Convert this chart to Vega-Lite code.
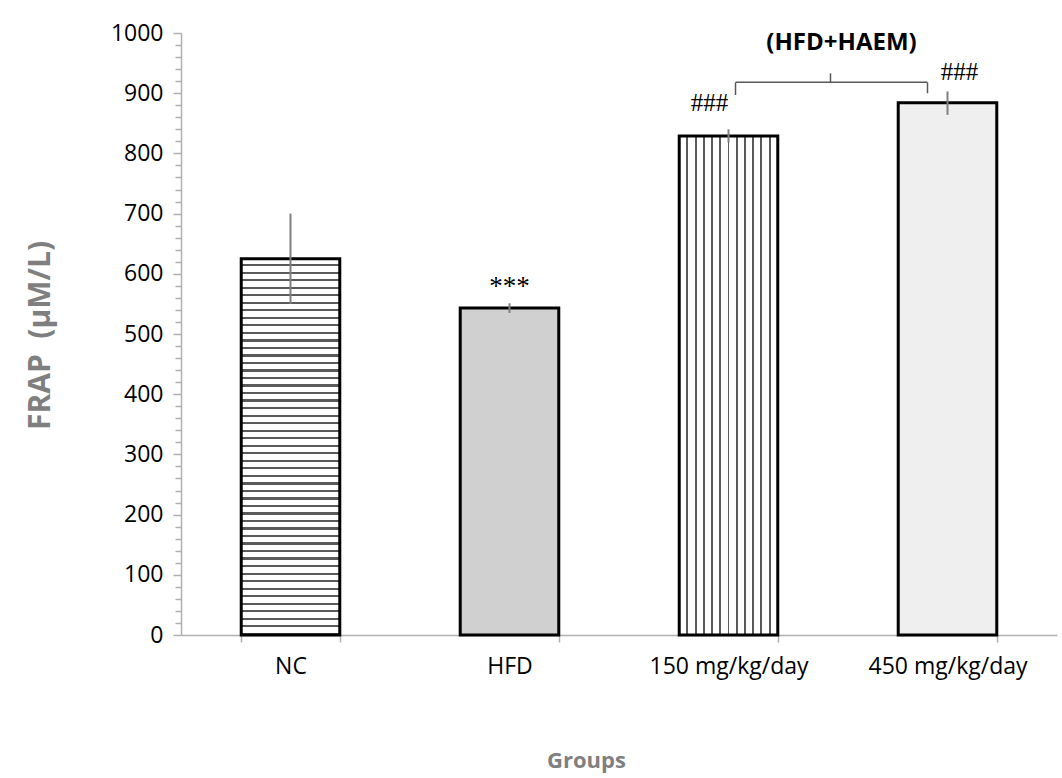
{
"$schema":"https://vega.github.io/schema/vega-lite/v6.json",
"width":876,"height":602,
"autosize":"none",
"padding":{"left":181,"top":33,"right":5,"bottom":143},
"background":"white",
"config":{"view":{"stroke":null},"font":"Open Sans"},
"data":{"values":[
{"group":"NC","mean":625,"lo":550,"hi":700,"sig":""},
{"group":"HFD","mean":543,"lo":535,"hi":551,"sig":"***"},
{"group":"150 mg/kg/day","mean":829,"lo":818,"hi":840,"sig":"###"},
{"group":"450 mg/kg/day","mean":884,"lo":864,"hi":903,"sig":"###"}
]},
"layer":[
{"transform":[{"filter":"datum.group === 'NC'"}],
"mark":{"type":"bar","stroke":"#000","strokeWidth":3,"fill":{"gradient":"linear","x1":0,"y1":0,"x2":0,"y2":1,"stops":[
{"offset":0,"color":"#fff"},{"offset":0.014,"color":"#fff"},{"offset":0.014,"color":"#5a5a5a"},{"offset":0.02,"color":"#5a5a5a"},
{"offset":0.02,"color":"#fff"},{"offset":0.034,"color":"#fff"},{"offset":0.034,"color":"#5a5a5a"},{"offset":0.04,"color":"#5a5a5a"},
{"offset":0.04,"color":"#fff"},{"offset":0.054,"color":"#fff"},{"offset":0.054,"color":"#5a5a5a"},{"offset":0.06,"color":"#5a5a5a"},
{"offset":0.06,"color":"#fff"},{"offset":0.074,"color":"#fff"},{"offset":0.074,"color":"#5a5a5a"},{"offset":0.08,"color":"#5a5a5a"},
{"offset":0.08,"color":"#fff"},{"offset":0.094,"color":"#fff"},{"offset":0.094,"color":"#5a5a5a"},{"offset":0.1,"color":"#5a5a5a"},
{"offset":0.1,"color":"#fff"},{"offset":0.114,"color":"#fff"},{"offset":0.114,"color":"#5a5a5a"},{"offset":0.12,"color":"#5a5a5a"},
{"offset":0.12,"color":"#fff"},{"offset":0.134,"color":"#fff"},{"offset":0.134,"color":"#5a5a5a"},{"offset":0.14,"color":"#5a5a5a"},
{"offset":0.14,"color":"#fff"},{"offset":0.154,"color":"#fff"},{"offset":0.154,"color":"#5a5a5a"},{"offset":0.16,"color":"#5a5a5a"},
{"offset":0.16,"color":"#fff"},{"offset":0.174,"color":"#fff"},{"offset":0.174,"color":"#5a5a5a"},{"offset":0.18,"color":"#5a5a5a"},
{"offset":0.18,"color":"#fff"},{"offset":0.194,"color":"#fff"},{"offset":0.194,"color":"#5a5a5a"},{"offset":0.2,"color":"#5a5a5a"},
{"offset":0.2,"color":"#fff"},{"offset":0.214,"color":"#fff"},{"offset":0.214,"color":"#5a5a5a"},{"offset":0.22,"color":"#5a5a5a"},
{"offset":0.22,"color":"#fff"},{"offset":0.234,"color":"#fff"},{"offset":0.234,"color":"#5a5a5a"},{"offset":0.24,"color":"#5a5a5a"},
{"offset":0.24,"color":"#fff"},{"offset":0.254,"color":"#fff"},{"offset":0.254,"color":"#5a5a5a"},{"offset":0.26,"color":"#5a5a5a"},
{"offset":0.26,"color":"#fff"},{"offset":0.274,"color":"#fff"},{"offset":0.274,"color":"#5a5a5a"},{"offset":0.28,"color":"#5a5a5a"},
{"offset":0.28,"color":"#fff"},{"offset":0.294,"color":"#fff"},{"offset":0.294,"color":"#5a5a5a"},{"offset":0.3,"color":"#5a5a5a"},
{"offset":0.3,"color":"#fff"},{"offset":0.314,"color":"#fff"},{"offset":0.314,"color":"#5a5a5a"},{"offset":0.32,"color":"#5a5a5a"},
{"offset":0.32,"color":"#fff"},{"offset":0.334,"color":"#fff"},{"offset":0.334,"color":"#5a5a5a"},{"offset":0.34,"color":"#5a5a5a"},
{"offset":0.34,"color":"#fff"},{"offset":0.354,"color":"#fff"},{"offset":0.354,"color":"#5a5a5a"},{"offset":0.36,"color":"#5a5a5a"},
{"offset":0.36,"color":"#fff"},{"offset":0.374,"color":"#fff"},{"offset":0.374,"color":"#5a5a5a"},{"offset":0.38,"color":"#5a5a5a"},
{"offset":0.38,"color":"#fff"},{"offset":0.394,"color":"#fff"},{"offset":0.394,"color":"#5a5a5a"},{"offset":0.4,"color":"#5a5a5a"},
{"offset":0.4,"color":"#fff"},{"offset":0.414,"color":"#fff"},{"offset":0.414,"color":"#5a5a5a"},{"offset":0.42,"color":"#5a5a5a"},
{"offset":0.42,"color":"#fff"},{"offset":0.434,"color":"#fff"},{"offset":0.434,"color":"#5a5a5a"},{"offset":0.44,"color":"#5a5a5a"},
{"offset":0.44,"color":"#fff"},{"offset":0.454,"color":"#fff"},{"offset":0.454,"color":"#5a5a5a"},{"offset":0.46,"color":"#5a5a5a"},
{"offset":0.46,"color":"#fff"},{"offset":0.474,"color":"#fff"},{"offset":0.474,"color":"#5a5a5a"},{"offset":0.48,"color":"#5a5a5a"},
{"offset":0.48,"color":"#fff"},{"offset":0.494,"color":"#fff"},{"offset":0.494,"color":"#5a5a5a"},{"offset":0.5,"color":"#5a5a5a"},
{"offset":0.5,"color":"#fff"},{"offset":0.514,"color":"#fff"},{"offset":0.514,"color":"#5a5a5a"},{"offset":0.52,"color":"#5a5a5a"},
{"offset":0.52,"color":"#fff"},{"offset":0.534,"color":"#fff"},{"offset":0.534,"color":"#5a5a5a"},{"offset":0.54,"color":"#5a5a5a"},
{"offset":0.54,"color":"#fff"},{"offset":0.554,"color":"#fff"},{"offset":0.554,"color":"#5a5a5a"},{"offset":0.56,"color":"#5a5a5a"},
{"offset":0.56,"color":"#fff"},{"offset":0.574,"color":"#fff"},{"offset":0.574,"color":"#5a5a5a"},{"offset":0.58,"color":"#5a5a5a"},
{"offset":0.58,"color":"#fff"},{"offset":0.594,"color":"#fff"},{"offset":0.594,"color":"#5a5a5a"},{"offset":0.6,"color":"#5a5a5a"},
{"offset":0.6,"color":"#fff"},{"offset":0.614,"color":"#fff"},{"offset":0.614,"color":"#5a5a5a"},{"offset":0.62,"color":"#5a5a5a"},
{"offset":0.62,"color":"#fff"},{"offset":0.634,"color":"#fff"},{"offset":0.634,"color":"#5a5a5a"},{"offset":0.64,"color":"#5a5a5a"},
{"offset":0.64,"color":"#fff"},{"offset":0.654,"color":"#fff"},{"offset":0.654,"color":"#5a5a5a"},{"offset":0.66,"color":"#5a5a5a"},
{"offset":0.66,"color":"#fff"},{"offset":0.674,"color":"#fff"},{"offset":0.674,"color":"#5a5a5a"},{"offset":0.68,"color":"#5a5a5a"},
{"offset":0.68,"color":"#fff"},{"offset":0.694,"color":"#fff"},{"offset":0.694,"color":"#5a5a5a"},{"offset":0.7,"color":"#5a5a5a"},
{"offset":0.7,"color":"#fff"},{"offset":0.714,"color":"#fff"},{"offset":0.714,"color":"#5a5a5a"},{"offset":0.72,"color":"#5a5a5a"},
{"offset":0.72,"color":"#fff"},{"offset":0.734,"color":"#fff"},{"offset":0.734,"color":"#5a5a5a"},{"offset":0.74,"color":"#5a5a5a"},
{"offset":0.74,"color":"#fff"},{"offset":0.754,"color":"#fff"},{"offset":0.754,"color":"#5a5a5a"},{"offset":0.76,"color":"#5a5a5a"},
{"offset":0.76,"color":"#fff"},{"offset":0.774,"color":"#fff"},{"offset":0.774,"color":"#5a5a5a"},{"offset":0.78,"color":"#5a5a5a"},
{"offset":0.78,"color":"#fff"},{"offset":0.794,"color":"#fff"},{"offset":0.794,"color":"#5a5a5a"},{"offset":0.8,"color":"#5a5a5a"},
{"offset":0.8,"color":"#fff"},{"offset":0.814,"color":"#fff"},{"offset":0.814,"color":"#5a5a5a"},{"offset":0.82,"color":"#5a5a5a"},
{"offset":0.82,"color":"#fff"},{"offset":0.834,"color":"#fff"},{"offset":0.834,"color":"#5a5a5a"},{"offset":0.84,"color":"#5a5a5a"},
{"offset":0.84,"color":"#fff"},{"offset":0.854,"color":"#fff"},{"offset":0.854,"color":"#5a5a5a"},{"offset":0.86,"color":"#5a5a5a"},
{"offset":0.86,"color":"#fff"},{"offset":0.874,"color":"#fff"},{"offset":0.874,"color":"#5a5a5a"},{"offset":0.88,"color":"#5a5a5a"},
{"offset":0.88,"color":"#fff"},{"offset":0.894,"color":"#fff"},{"offset":0.894,"color":"#5a5a5a"},{"offset":0.9,"color":"#5a5a5a"},
{"offset":0.9,"color":"#fff"},{"offset":0.914,"color":"#fff"},{"offset":0.914,"color":"#5a5a5a"},{"offset":0.92,"color":"#5a5a5a"},
{"offset":0.92,"color":"#fff"},{"offset":0.934,"color":"#fff"},{"offset":0.934,"color":"#5a5a5a"},{"offset":0.94,"color":"#5a5a5a"},
{"offset":0.94,"color":"#fff"},{"offset":0.954,"color":"#fff"},{"offset":0.954,"color":"#5a5a5a"},{"offset":0.96,"color":"#5a5a5a"},
{"offset":0.96,"color":"#fff"},{"offset":0.974,"color":"#fff"},{"offset":0.974,"color":"#5a5a5a"},{"offset":0.98,"color":"#5a5a5a"},
{"offset":0.98,"color":"#fff"},{"offset":0.994,"color":"#fff"},{"offset":0.994,"color":"#5a5a5a"},{"offset":1,"color":"#5a5a5a"}
]}},
"encoding":{
"x":{"field":"group","type":"nominal","sort":null,
"scale":{"domain":["NC","HFD","150 mg/kg/day","450 mg/kg/day"],"paddingInner":0.55,"paddingOuter":0.275},
"axis":{"title":"Groups","labelAngle":0,"labelFont":"Open Sans","labelFontSize":23,"labelColor":"#000","labelPadding":13,"tickBand":"extent","tickSize":7,"tickColor":"#b0b0b0","tickWidth":1.5,"domainColor":"#b0b0b0","domainWidth":1.5,"titleFont":"Open Sans","titleFontSize":22,"titleFontWeight":"bold","titleColor":"#7f7f7f","titleX":405,"titleY":125,"titleBaseline":"middle","titleAlign":"center"}},
"y":{"field":"mean","type":"quantitative","scale":{"domain":[0,1000],"nice":false},
"axis":{"title":"FRAP\u00a0\u00a0(μM/L)","format":"d","tickCount":60,"values":[0,20,40,60,80,100,120,140,160,180,200,220,240,260,280,300,320,340,360,380,400,420,440,460,480,500,520,540,560,580,600,620,640,660,680,700,720,740,760,780,800,820,840,860,880,900,920,940,960,980,1000],
"labelExpr":"datum.value % 100 === 0 ? datum.label : ''","labelOverlap":false,"labelFont":"Open Sans","labelFontSize":23,"labelColor":"#000","labelPadding":10,"tickSize":{"condition":{"test":"datum.value % 100 === 0","value":8},"value":6},"tickColor":"#b0b0b0","tickWidth":1.5,"domainColor":"#b0b0b0","domainWidth":1.5,"grid":false,
"titleFont":"Open Sans","titleFontSize":30,"titleFontWeight":"bold","titleColor":"#7f7f7f","titleAngle":-90,"titleX":-141,"titleY":302,"titleAlign":"center","titleBaseline":"middle"}}
}},
{"transform":[{"filter":"datum.group === 'HFD'"}],
"mark":{"type":"bar","stroke":"#000","strokeWidth":3,"fill":"#d0d0d0"},
"encoding":{"x":{"field":"group","type":"nominal"},"y":{"field":"mean","type":"quantitative"}}},
{"transform":[{"filter":"datum.group === '150 mg/kg/day'"}],
"mark":{"type":"bar","stroke":"#000","strokeWidth":3,"fill":{"gradient":"linear","x1":0,"y1":0,"x2":1,"y2":0,"stops":[
{"offset":0,"color":"#fff"},{"offset":0.0733,"color":"#fff"},{"offset":0.0733,"color":"#5a5a5a"},{"offset":0.0933,"color":"#5a5a5a"},{"offset":0.0933,"color":"#fff"},
{"offset":0.1567,"color":"#fff"},{"offset":0.1567,"color":"#5a5a5a"},{"offset":0.1767,"color":"#5a5a5a"},{"offset":0.1767,"color":"#fff"},
{"offset":0.24,"color":"#fff"},{"offset":0.24,"color":"#5a5a5a"},{"offset":0.26,"color":"#5a5a5a"},{"offset":0.26,"color":"#fff"},
{"offset":0.3233,"color":"#fff"},{"offset":0.3233,"color":"#5a5a5a"},{"offset":0.3433,"color":"#5a5a5a"},{"offset":0.3433,"color":"#fff"},
{"offset":0.4067,"color":"#fff"},{"offset":0.4067,"color":"#5a5a5a"},{"offset":0.4267,"color":"#5a5a5a"},{"offset":0.4267,"color":"#fff"},
{"offset":0.49,"color":"#fff"},{"offset":0.49,"color":"#5a5a5a"},{"offset":0.51,"color":"#5a5a5a"},{"offset":0.51,"color":"#fff"},
{"offset":0.5733,"color":"#fff"},{"offset":0.5733,"color":"#5a5a5a"},{"offset":0.5933,"color":"#5a5a5a"},{"offset":0.5933,"color":"#fff"},
{"offset":0.6567,"color":"#fff"},{"offset":0.6567,"color":"#5a5a5a"},{"offset":0.6767,"color":"#5a5a5a"},{"offset":0.6767,"color":"#fff"},
{"offset":0.74,"color":"#fff"},{"offset":0.74,"color":"#5a5a5a"},{"offset":0.76,"color":"#5a5a5a"},{"offset":0.76,"color":"#fff"},
{"offset":0.8233,"color":"#fff"},{"offset":0.8233,"color":"#5a5a5a"},{"offset":0.8433,"color":"#5a5a5a"},{"offset":0.8433,"color":"#fff"},
{"offset":0.9067,"color":"#fff"},{"offset":0.9067,"color":"#5a5a5a"},{"offset":0.9267,"color":"#5a5a5a"},{"offset":0.9267,"color":"#fff"},
{"offset":1,"color":"#fff"}
]}},
"encoding":{"x":{"field":"group","type":"nominal"},"y":{"field":"mean","type":"quantitative"}}},
{"transform":[{"filter":"datum.group === '450 mg/kg/day'"}],
"mark":{"type":"bar","stroke":"#000","strokeWidth":3,"fill":"#efefef"},
"encoding":{"x":{"field":"group","type":"nominal"},"y":{"field":"mean","type":"quantitative"}}},
{"mark":{"type":"rule","color":"#7f7f7f","strokeWidth":2},
"encoding":{"x":{"field":"group","type":"nominal"},"y":{"field":"lo","type":"quantitative"},"y2":{"field":"hi"}}},
{"transform":[{"filter":"datum.group === 'HFD'"}],
"mark":{"type":"text","font":"Liberation Serif","fontSize":27,"color":"#000","baseline":"alphabetic","dy":-8},
"encoding":{"x":{"field":"group","type":"nominal"},"y":{"field":"hi","type":"quantitative"},"text":{"field":"sig"}}},
{"transform":[{"filter":"datum.group === '150 mg/kg/day'"}],
"mark":{"type":"text","font":"Liberation Serif","fontSize":25,"color":"#000","baseline":"alphabetic","dy":-18,"dx":-19},
"encoding":{"x":{"field":"group","type":"nominal"},"y":{"field":"hi","type":"quantitative"},"text":{"field":"sig"}}},
{"transform":[{"filter":"datum.group === '450 mg/kg/day'"}],
"mark":{"type":"text","font":"Liberation Serif","fontSize":25,"color":"#000","baseline":"alphabetic","dy":-11,"dx":12},
"encoding":{"x":{"field":"group","type":"nominal"},"y":{"field":"hi","type":"quantitative"},"text":{"field":"sig"}}},
{"data":{"values":[{"from":"150 mg/kg/day","to":"450 mg/kg/day","brace":918,"hookL":897,"hookR":900,"peak":933,"labelY":972,"label":"(HFD+HAEM)"}]},
"layer":[
{"mark":{"type":"rule","color":"#595959","strokeWidth":1.5,"xOffset":7,"x2Offset":-20},
"encoding":{"x":{"field":"from","type":"nominal"},"x2":{"field":"to"},"y":{"field":"brace","type":"quantitative"}}},
{"mark":{"type":"rule","color":"#595959","strokeWidth":1.5,"xOffset":7},
"encoding":{"x":{"field":"from","type":"nominal"},"y":{"field":"brace","type":"quantitative"},"y2":{"field":"hookL"}}},
{"mark":{"type":"rule","color":"#595959","strokeWidth":1.5,"xOffset":-20},
"encoding":{"x":{"field":"to","type":"nominal"},"y":{"field":"brace","type":"quantitative"},"y2":{"field":"hookR"}}},
{"mark":{"type":"rule","color":"#595959","strokeWidth":1.5,"xOffset":-117},
"encoding":{"x":{"field":"to","type":"nominal"},"y":{"field":"brace","type":"quantitative"},"y2":{"field":"peak"}}},
{"mark":{"type":"text","font":"Open Sans","fontSize":24,"fontWeight":"bold","color":"#000","baseline":"alphabetic","xOffset":-106},
"encoding":{"x":{"field":"to","type":"nominal"},"y":{"field":"labelY","type":"quantitative"},"text":{"field":"label"}}}
]}
]
}
